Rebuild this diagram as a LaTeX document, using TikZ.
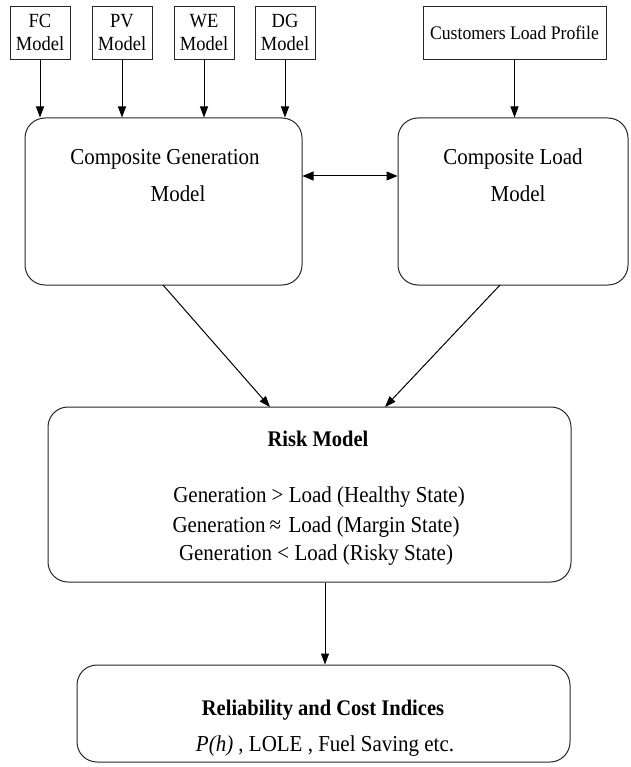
\documentclass[tikz,border=0pt]{standalone}
\usepackage{fontspec}
\setmainfont{Liberation Serif}[FakeStretch=0.92]
\usetikzlibrary{arrows.meta,calc}
\begin{document}
\begin{tikzpicture}[x=1pt,y=-1pt,
  sq/.style={draw=black!85,line width=1pt,inner sep=0pt,minimum height=53pt,minimum width=60pt},
  rbox/.style={draw=black!85,line width=1pt,rounded corners=20pt,inner sep=0pt},
  txt/.style={inner sep=0pt,anchor=base,font=\fontsize{20.1}{22}\selectfont},
  big/.style={inner sep=0pt,anchor=base,font=\fontsize{22.8}{25}\selectfont},
  bld/.style={inner sep=0pt,anchor=base,font=\bfseries\fontsize{22.3}{24}\selectfont},
  arr/.style={draw=black,line width=1pt,-{Triangle[length=11pt,width=8pt]}},
  darr/.style={draw=black,line width=1pt,{Triangle[length=11pt,width=9pt]}-{Triangle[length=11pt,width=9pt]}}]
\useasboundingbox (0,0) rectangle (630,767);
% top boxes
\node[sq] (fc) at (40,33) {};
\node[sq] (pv) at (122,33) {};
\node[sq] (we) at (204,33) {};
\node[sq] (dg) at (285,33) {};
\node[sq,minimum width=183pt] (cu) at (514.5,33) {};
\node[txt] (fc1) at (40,28) {FC};
\node[txt] (fc2) at (40,51) {Model};
\node[txt] (pv1) at (122,28) {PV};
\node[txt] (pv2) at (122,51) {Model};
\node[txt] (we1) at (204,28) {WE};
\node[txt] (we2) at (204,51) {Model};
\node[txt] (dg1) at (285,28) {DG};
\node[txt] (dg2) at (285,51) {Model};
\node[txt,font=\fontsize{19.2}{21}\selectfont] (cu1) at (514.5,40) {Customers Load Profile};
% middle boxes
\node[rbox,minimum width=277pt,minimum height=167pt] (gen) at (163.5,201.5) {};
\node[rbox,minimum width=230pt,minimum height=167pt] (load) at (513,201.5) {};
\node[big] (gen1) at (165,165) {Composite Generation};
\node[big] (gen2) at (178,201) {Model};
\node[big] (load1) at (513,165) {Composite Load};
\node[big] (load2) at (518,201) {Model};
% risk
\node[rbox,minimum width=523pt,minimum height=175pt] (risk) at (309.5,494.5) {};
\node[bld] (risk1) at (318,446) {Risk Model};
\node[big] (risk2) at (319,502) {Generation > Load (Healthy State)};
\node[big] (risk3) at (316,532) {Generation\,≈\,\,Load (Margin State)};
\node[big] (risk4) at (316,560) {Generation < Load (Risky State)};
% reliability
\node[rbox,minimum width=493pt,minimum height=97pt] (rel) at (323.5,713.5) {};
\node[bld] (rel1) at (323,715) {Reliability and Cost Indices};
\node[big] (rel2) at (325,751) {\textit{P(h)} , LOLE , Fuel Saving etc.};
% connectors
\foreach \n in {fc,pv,we,dg}{
  \draw[arr] (\n.south) -- (\n.south |- gen.north);
}
\draw[arr] (cu.south) -- (cu.south |- load.north);
\draw[darr] (gen.east |- 0,176) -- (load.west |- 0,176);
\coordinate (g0) at (163,285);
\coordinate (g1) at (270,407);
\coordinate (l0) at (500,285);
\coordinate (l1) at (385,407);
\draw[arr] (g0) -- (g1);
\draw[arr] (l0) -- (l1);
\draw[arr] (risk.south -| 325,0) -- (rel.north -| 325,0);
\end{tikzpicture}
\end{document}
